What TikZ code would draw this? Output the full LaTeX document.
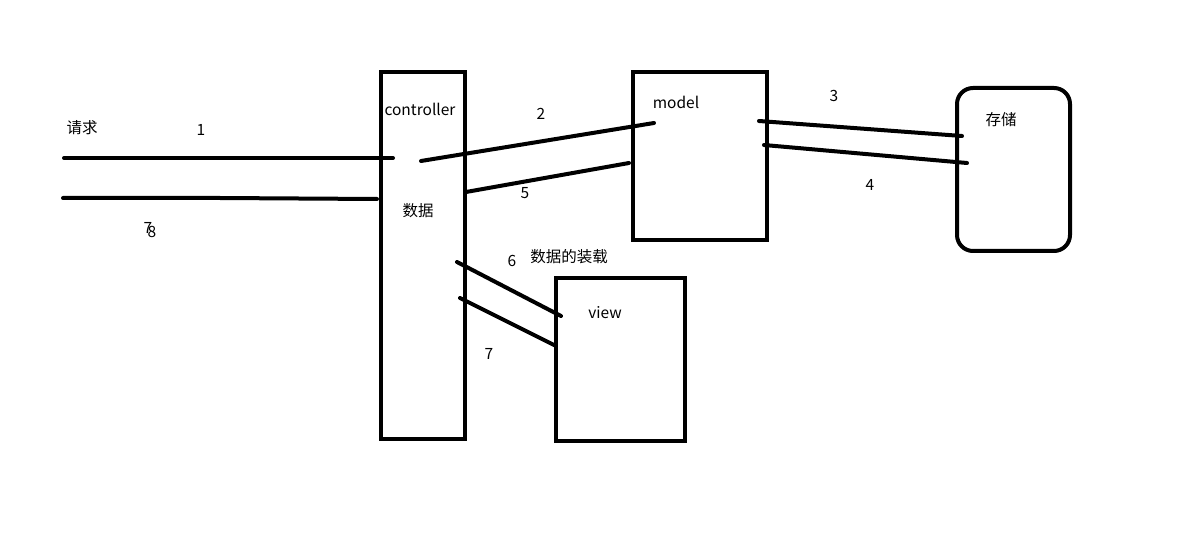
\documentclass[tikz,border=0pt]{standalone}
\usepackage{fontspec}
\setmainfont{Noto Sans CJK SC}
\begin{document}
\begin{tikzpicture}[x=1pt,y=-1pt,
  boxstyle/.style={draw=black,line width=4pt,inner sep=0pt},
  wire/.style={line width=4pt,line cap=round},
  lbl/.style={font=\fontsize{15.5}{17}\selectfont,inner sep=0pt,anchor=center}]
\useasboundingbox[fill=white] (0,0) rectangle (1199,545);
% boxes
\draw[boxstyle] (381,72) rectangle (465,439);
\draw[boxstyle] (633,72) rectangle (767,240);
\draw[boxstyle,rounded corners=16pt] (957,88) rectangle (1070,251);
\draw[boxstyle] (556,278) rectangle (685,441);
% anchor coordinates
\coordinate (r1a) at (64,158);  \coordinate (r1b) at (393,158);
\coordinate (r8a) at (63,198);  \coordinate (r8m) at (220,198); \coordinate (r8b) at (377,199);
\coordinate (c2a) at (421,161); \coordinate (c2b) at (654,123);
\coordinate (c5a) at (466,192); \coordinate (c5b) at (629,163);
\coordinate (m3a) at (759,121); \coordinate (m3b) at (962,136);
\coordinate (m4a) at (764,145); \coordinate (m4b) at (967,163);
\coordinate (v6a) at (457,262); \coordinate (v6b) at (561,316);
\coordinate (v7a) at (460,298); \coordinate (v7b) at (556,346);
\draw[wire] (r1a) -- (r1b);
\draw[wire] (r8a) -- (r8m) -- (r8b);
\draw[wire] (c2a) -- (c2b);
\draw[wire] (c5a) -- (c5b);
\draw[wire] (m3a) -- (m3b);
\draw[wire] (m4a) -- (m4b);
\draw[wire] (v6a) -- (v6b);
\draw[wire] (v7a) -- (v7b);
% labels
\node[lbl] (tq) at (82,128) {请求};
\node[lbl] (t1) at (201,130) {1};
\node[lbl] (t7a) at (148,228) {7};
\node[lbl] (t8a) at (152,232) {8};
\node[lbl] (tc) at (420,109) {controller};
\node[lbl] (tsj) at (418,211) {数据};
\node[lbl] (t2) at (541,114) {2};
\node[lbl] (t5) at (525,193) {5};
\node[lbl] (tm) at (676,102) {model};
\node[lbl] (t3) at (834,96) {3};
\node[lbl] (t4) at (870,185) {4};
\node[lbl] (tcc) at (1001,120) {存储};
\node[lbl] (t6) at (512,261) {6};
\node[lbl] (tzz) at (569,257) {数据的装载};
\node[lbl] (tv) at (605,313) {view};
\node[lbl] (t7) at (489,354) {7};
\end{tikzpicture}
\end{document}
